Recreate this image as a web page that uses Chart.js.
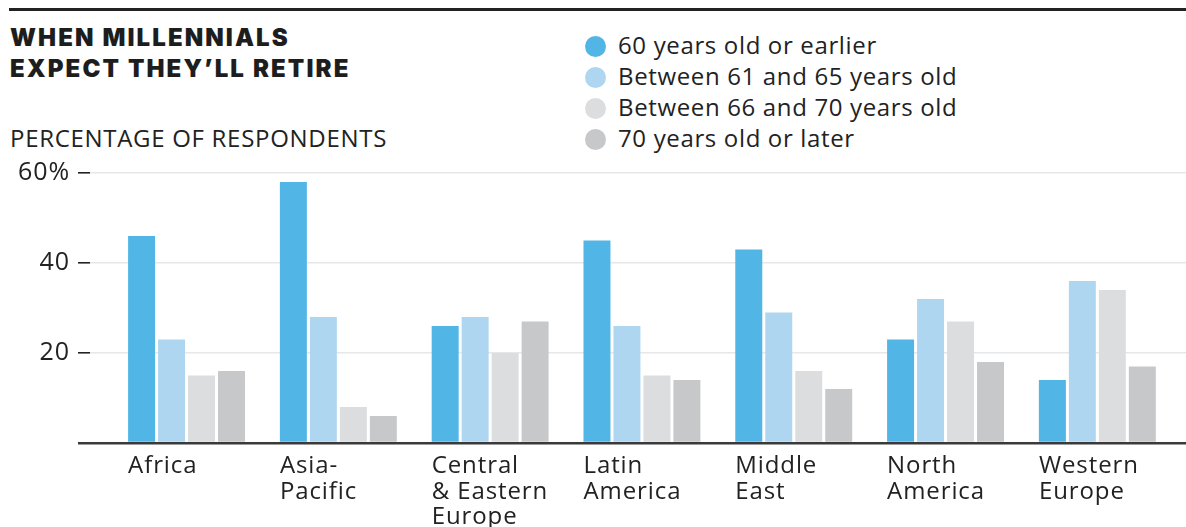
<!DOCTYPE html>
<html>
<head>
<meta charset="utf-8">
<script src="https://cdn.jsdelivr.net/npm/chart.js@4"></script>
<style>
  html, body { margin: 0; padding: 0; background: #fff; }
  #wrap { position: relative; width: 1186px; height: 527px; overflow: hidden; }
  #rule { position: absolute; left: 9px; right: 0; top: 8px; height: 3px; background: #222; }
  #title { position: absolute; left: 10px; top: 22px; font: 900 24px Inter, "Open Sans", sans-serif;
           letter-spacing: 2.1px; line-height: 31px; color: #1d1d1d; }
  #sub { position: absolute; left: 10px; top: 121px; font: 400 24px "Open Sans", sans-serif;
         letter-spacing: 0.7px; color: #222; }
  #legend { position: absolute; left: 585px; top: 29px; font: 400 24px "Open Sans", sans-serif;
            letter-spacing: 0.65px; color: #222; }
  #legend div { height: 31px; line-height: 31px; white-space: nowrap; }
  #legend span { display: inline-block; width: 21px; height: 21px; border-radius: 50%;
                 vertical-align: -3px; margin-right: 12px; }
  canvas { position: absolute; left: 0; top: 0; }
</style>
</head>
<body>
<div id="wrap">
  <div id="rule"></div>
  <div id="title">WHEN MILLENNIALS<br>EXPECT THEY’LL RETIRE</div>
  <div id="sub">PERCENTAGE OF RESPONDENTS</div>
  <div id="legend"></div>
  <canvas id="c" width="1186" height="527"></canvas>
</div>
<script>
// Regions (multi-line labels) and the share of respondents per retirement age bracket
const regions = [
  ['Africa'],
  ['Asia-', 'Pacific'],
  ['Central', '& Eastern', 'Europe'],
  ['Latin', 'America'],
  ['Middle', 'East'],
  ['North', 'America'],
  ['Western', 'Europe']
];
const seriesNames = [
  '60 years old or earlier',
  'Between 61 and 65 years old',
  'Between 66 and 70 years old',
  '70 years old or later'
];
const age60OrEarlier = [46, 58, 26, 45, 43, 23, 14];
const age61to65      = [23, 28, 28, 26, 29, 32, 36];
const age66to70      = [15, 8, 20, 15, 16, 27, 34];
const age70OrLater   = [16, 6, 27, 14, 12, 18, 17];
const yTicks = [0, 20, 40, 60];
const yTickLabels = ['', '20', '40', '60%'];

const colors = ['#51b5e6', '#afd6f1', '#dcdddf', '#c7c8ca'];
const seriesValues = [age60OrEarlier, age61to65, age66to70, age70OrLater];

// HTML legend built from the series
const legendEl = document.getElementById('legend');
seriesNames.forEach((name, i) => {
  const row = document.createElement('div');
  const dot = document.createElement('span');
  dot.style.background = colors[i];
  row.appendChild(dot);
  row.appendChild(document.createTextNode(name));
  legendEl.appendChild(row);
});

const datasets = seriesValues.map((vals, s) => ({
  label: seriesNames[s],
  data: vals.map((v, i) => ({ x: i, y: v })),
  backgroundColor: colors[s],
  borderWidth: 0,
  barPercentage: 0.9,
  categoryPercentage: 0.79
}));

const CHART_LEFT = 90, CHART_TOP = 173, CHART_BOTTOM = 443;
const labelShift = 0.385; // labels start at the first bar's left edge

// slightly tracked-out text on the canvas
const letterSpacingPlugin = {
  id: 'letterSpacing',
  beforeDraw: (chart) => { chart.ctx.letterSpacing = '0.9px'; }
};

new Chart(document.getElementById('c'), {
  type: 'bar',
  data: { datasets },
  plugins: [letterSpacingPlugin],
  options: {
    responsive: false,
    animation: false,
    events: [],
    layout: { padding: { top: CHART_TOP, left: 0, right: 0, bottom: 0 } },
    plugins: { legend: { display: false }, tooltip: { enabled: false } },
    scales: {
      x: {
        type: 'linear',
        offset: false,
        min: -0.636,
        max: 6.584,
        grid: { display: false },
        border: { display: false },
        afterBuildTicks: (scale) => {
          scale.ticks = regions.map((_, i) => ({ value: i - labelShift }));
        },
        afterFit: (scale) => { scale.height = 527 - CHART_BOTTOM; scale.paddingLeft = 0; scale.paddingRight = 0; },
        ticks: {
          autoSkip: false,
          maxRotation: 0,
          minRotation: 0,
          align: 'start',
          padding: 3,
          color: '#222',
          font: { family: '"Open Sans", sans-serif', size: 24, lineHeight: 1.05 },
          callback: (value, index) => regions[index]
        }
      },
      y: {
        min: 0,
        max: 60,
        afterBuildTicks: (scale) => { scale.ticks = yTicks.map(v => ({ value: v })); },
        afterFit: (scale) => { scale.width = CHART_LEFT; },
        border: { display: false },
        grid: {
          color: (ctx) => ctx.tick && ctx.tick.value === 0 ? '#3a3a3a' : '#e6e7e8',
          lineWidth: (ctx) => ctx.tick && ctx.tick.value === 0 ? 2.5 : 1.6,
          tickColor: (ctx) => ctx.tick && ctx.tick.value === 0 ? '#3a3a3a' : '#222',
          tickWidth: (ctx) => ctx.tick && ctx.tick.value === 0 ? 2.5 : 1.6,
          tickLength: 12,
          drawTicks: true
        },
        ticks: {
          padding: 8,
          color: '#222',
          font: { family: '"Open Sans", sans-serif', size: 25 },
          callback: (value) => yTickLabels[yTicks.indexOf(value)]
        }
      }
    }
  }
});
</script>
</body>
</html>
